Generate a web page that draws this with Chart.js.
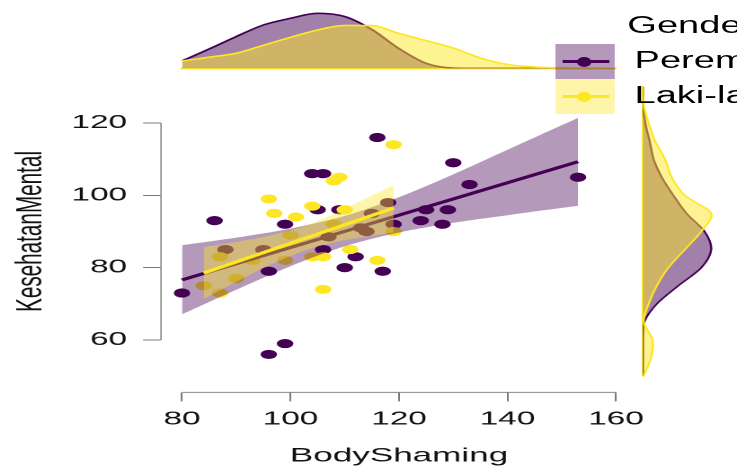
<!DOCTYPE html>
<html>
<head>
<meta charset="utf-8">
<title>BodyShaming vs KesehatanMental</title>
<script src="https://cdn.jsdelivr.net/npm/chart.js@4"></script>
<style>
  html, body { margin: 0; padding: 0; width: 737px; height: 468px; overflow: hidden; background: #fff; }
  /* the reference is stretched sideways, so draw narrow and widen the whole thing */
  #wrap { position: absolute; left: 0; top: 0; width: 410px; height: 468px;
          transform: scaleX(1.79756); transform-origin: 0 0; }
  .box { position: absolute; }
  #mainBox { left: 0; top: 0; width: 410px; height: 468px; }
  #topBox { left: 0; top: 0; width: 410px; height: 75px; }
  #rightBox { left: 340px; top: 80px; width: 70px; height: 300px; }
  .lg { position: absolute; font-family: 'Liberation Sans', Arial, sans-serif; font-size: 23px;
        line-height: 23px; color: #000; white-space: nowrap; transform: scaleX(0.92); transform-origin: 0 0; }
  .key { position: absolute; width: 32.8px; height: 35px; left: 309.3px; }
  .keyLine { position: absolute; left: 312.6px; width: 26.1px; height: 3px; }
  .keyDot { position: absolute; left: 321.4px; width: 8px; height: 10px; border-radius: 50%; }
</style>
</head>
<body>
<div id="wrap">
  <div class="box" id="mainBox"><canvas id="main"></canvas></div>
  <div class="box" id="topBox"><canvas id="topd"></canvas></div>
  <div class="box" id="rightBox"><canvas id="rightd"></canvas></div>
  <div id="legend"></div>
</div>
<script>
// ---- data ----
const groups = ['Perempuan', 'Laki-laki'];
const legendTitle = 'Gender';
const xTitle = 'BodyShaming';
const yTitle = 'KesehatanMental';
const xTicks = [80, 100, 120, 140, 160];
const yTicks = [60, 80, 100, 120];

const perempuanX = [80, 86, 88, 95, 96, 96, 99, 99, 104, 106, 105, 106, 107, 109, 110, 112, 113, 114, 115, 116, 117, 118, 119, 124, 125, 128, 129, 130, 133, 153];
const perempuanY = [73, 93, 85, 85, 79, 56, 59, 92, 106, 106, 96, 85, 88.5, 96, 80, 83, 91, 90, 95, 116, 79, 98, 92, 93, 96, 92, 96, 109, 103, 105];
const lakiX = [84, 87, 87, 90, 93, 96, 97, 99, 100, 101, 104, 104, 106, 106, 108, 108, 109, 110, 111, 116, 119, 119];
const lakiY = [75, 73, 83, 77, 82, 99, 95, 82, 89, 94, 97, 83, 83, 74, 92, 104, 105, 96, 85, 82, 114, 90];

// fitted lines and their bands
const perempuanFitX = [80, 153];
const perempuanFitY = [76.6, 109.3];
const lakiFitX = [84, 119];
const lakiFitY = [78.5, 96.5];
const perempuanBandX = [80, 90, 100, 110, 120, 130, 140, 153];
const perempuanBandLo = [67.1, 73.9, 80.4, 85.9, 89.7, 92.4, 94.5, 97.1];
const perempuanBandHi = [86.2, 88.3, 90.8, 94.3, 99.5, 105.8, 112.6, 121.4];
const lakiBandX = [84, 90, 96, 102, 108, 114, 119];
const lakiBandLo = [71.3, 76.1, 80.6, 84.4, 87.0, 88.6, 89.7];
const lakiBandHi = [85.7, 87.1, 88.8, 91.2, 94.8, 99.2, 102.8];

// marginal densities (relative heights)
const densXGrid = [80, 85, 90, 95, 100, 105, 110, 115, 120, 125, 130, 135, 140, 145, 150, 155, 160];
const perempuanDensX = [7.3, 19.3, 31.7, 43.3, 50, 55, 51.7, 38.7, 19.7, 5, 0.3, 0, 0, 0, 0, 0, 0];
const lakiDensX = [7.3, 11.1, 15, 23, 31, 38.3, 42.9, 42.7, 34.8, 27.7, 20.2, 10.4, 3.8, 1.3, 0.5, 0.3, 0];
const densYGrid = [50, 55, 60, 65, 70, 75, 80, 85, 90, 95, 100, 105, 110, 115, 120, 125, 130];
const perempuanDensY = [0, 0, 0, 1.3, 14, 35.7, 59, 69, 62.3, 44, 30.7, 19, 10.7, 6.7, 2.3, 0, 0];
const lakiDensY = [0.5, 8, 9.7, 0.7, 5.7, 14, 25.7, 42.3, 59, 69, 42.3, 29, 22.3, 12.3, 5.7, 0.7, 0];

// ---- styles ----
const purple = '#440154';
const yellow = '#FDE725';
const purpleBand = 'rgba(68,1,84,0.4)';
const yellowBand = 'rgba(253,231,37,0.4)';
const purpleFill = 'rgba(68,1,84,0.5)';
const yellowFill = 'rgba(253,231,37,0.5)';
const fontFam = "'Liberation Sans', Arial, sans-serif";

Chart.defaults.font.family = fontFam;
Chart.defaults.color = '#111';

const pts = (xs, ys) => xs.map((v, i) => ({x: v, y: ys[i]}));

// axis lines only over the tick range, plus the two axis titles
const baseAxes = {
  id: 'baseAxes',
  beforeDatasetsDraw(chart) {
    const {ctx, chartArea, scales: {x, y}} = chart;
    ctx.save();
    ctx.strokeStyle = '#8a8a8a';
    ctx.lineWidth = 1;
    ctx.beginPath();
    ctx.moveTo(x.getPixelForValue(xTicks[0]), chartArea.bottom);
    ctx.lineTo(x.getPixelForValue(xTicks[xTicks.length - 1]), chartArea.bottom);
    ctx.stroke();
    ctx.lineWidth = 0.8;
    ctx.beginPath();
    ctx.moveTo(chartArea.left, y.getPixelForValue(yTicks[0]));
    ctx.lineTo(chartArea.left, y.getPixelForValue(yTicks[yTicks.length - 1]));
    ctx.stroke();
    ctx.restore();
  },
  afterDraw(chart) {
    const {ctx, scales: {x, y}} = chart;
    ctx.save();
    ctx.fillStyle = '#111';
    ctx.textAlign = 'center';
    ctx.textBaseline = 'alphabetic';
    ctx.font = '19.5px ' + fontFam;
    ctx.fillText(xTitle, x.getPixelForValue((xTicks[0] + xTicks[xTicks.length - 1]) / 2), 461.7);
    ctx.translate(23.2, y.getPixelForValue((yTicks[0] + yTicks[yTicks.length - 1]) / 2));
    ctx.rotate(-Math.PI / 2);
    ctx.font = '20.7px ' + fontFam;
    ctx.fillText(yTitle, 0, 0);
    ctx.restore();
  }
};

new Chart(document.getElementById('main'), {
  type: 'scatter',
  data: {
    datasets: [
      {label: groups[0], data: pts(perempuanX, perempuanY), backgroundColor: purple, borderWidth: 0, pointRadius: 4.6, order: 5},
      {label: groups[1], data: pts(lakiX, lakiY), backgroundColor: yellow, borderWidth: 0, pointRadius: 4.6, order: 4},
      {type: 'line', data: pts(perempuanBandX, perempuanBandLo), borderWidth: 0, borderColor: 'transparent', pointRadius: 0, fill: false, tension: 0.3, order: 3},
      {type: 'line', data: pts(perempuanBandX, perempuanBandHi), borderWidth: 0, borderColor: 'transparent', pointRadius: 0, fill: '-1', backgroundColor: purpleBand, tension: 0.3, order: 3},
      {type: 'line', data: pts(perempuanFitX, perempuanFitY), borderColor: purple, borderWidth: 3, pointRadius: 0, fill: false, order: 2},
      {type: 'line', data: pts(lakiBandX, lakiBandLo), borderWidth: 0, borderColor: 'transparent', pointRadius: 0, fill: false, tension: 0.3, order: 1},
      {type: 'line', data: pts(lakiBandX, lakiBandHi), borderWidth: 0, borderColor: 'transparent', pointRadius: 0, fill: '-1', backgroundColor: yellowBand, tension: 0.3, order: 1},
      {type: 'line', data: pts(lakiFitX, lakiFitY), borderColor: yellow, borderWidth: 3, pointRadius: 0, fill: false, order: 0}
    ]
  },
  options: {
    animation: false,
    responsive: true,
    maintainAspectRatio: false,
    devicePixelRatio: 2,
    layout: {padding: {left: 0, top: 104.9, right: 67.32, bottom: 0}},
    plugins: {legend: {display: false}, tooltip: {enabled: false}},
    scales: {
      x: {
        type: 'linear', min: 76.13, max: 160,
        afterBuildTicks: s => { s.ticks = xTicks.map(v => ({value: v})); },
        afterFit: s => { s.height = 75.6; },
        ticks: {autoSkip: false, maxRotation: 0, padding: 7, font: {size: 18.5}, color: '#111'},
        grid: {drawOnChartArea: false, drawTicks: true, tickLength: 9, color: '#7a7a7a', lineWidth: 1},
        border: {display: false}
      },
      y: {
        type: 'linear', min: 45.5, max: 125,
        afterBuildTicks: s => { s.ticks = yTicks.map(v => ({value: v})); },
        afterFit: s => { s.width = 89.57; },
        ticks: {autoSkip: false, padding: 8.9, font: {size: 18.5}, color: '#111'},
        grid: {drawOnChartArea: false, drawTicks: true, tickLength: 10, color: '#7a7a7a', lineWidth: 1},
        border: {display: false}
      }
    }
  },
  plugins: [baseAxes]
});

// top marginal density
new Chart(document.getElementById('topd'), {
  type: 'line',
  data: {
    datasets: [
      {label: groups[1], data: pts(densXGrid, lakiDensX), borderColor: yellow, backgroundColor: yellowFill, borderWidth: 1.6, fill: 'origin', pointRadius: 0, cubicInterpolationMode: 'monotone', order: 0},
      {label: groups[0], data: pts(densXGrid, perempuanDensX), borderColor: purple, backgroundColor: purpleFill, borderWidth: 1.6, fill: 'origin', pointRadius: 0, cubicInterpolationMode: 'monotone', order: 1}
    ]
  },
  options: {
    animation: false,
    responsive: true,
    maintainAspectRatio: false,
    devicePixelRatio: 2,
    layout: {padding: {left: 101.25, right: 67.32, top: 8.3, bottom: 6.7}},
    plugins: {legend: {display: false}, tooltip: {enabled: false}},
    scales: {
      x: {
        type: 'linear', min: 80, max: 160,
        ticks: {display: false},
        grid: {display: false, drawTicks: false},
        border: {display: true, color: yellow, width: 2},
        afterFit: s => { s.height = 0; }
      },
      y: {min: 0, max: 60, display: false}
    }
  }
});

// right marginal density
new Chart(document.getElementById('rightd'), {
  type: 'line',
  data: {
    datasets: [
      {label: groups[1], data: pts(lakiDensY, densYGrid), borderColor: yellow, backgroundColor: yellowFill, borderWidth: 1.2, fill: 'origin', pointRadius: 0, tension: 0.3, order: 0},
      {label: groups[0], data: pts(perempuanDensY, densYGrid), borderColor: purple, backgroundColor: purpleFill, borderWidth: 1.2, fill: 'origin', pointRadius: 0, tension: 0.3, order: 1}
    ]
  },
  options: {
    indexAxis: 'y',
    animation: false,
    responsive: true,
    maintainAspectRatio: false,
    devicePixelRatio: 2,
    layout: {padding: {left: 17.7, right: 0, top: 6.8, bottom: 3.8}},
    plugins: {legend: {display: false}, tooltip: {enabled: false}},
    scales: {
      x: {type: 'linear', min: 0, max: 94, display: false},
      y: {
        type: 'linear', min: 50, max: 130,
        ticks: {display: false},
        grid: {display: false, drawTicks: false},
        border: {display: true, color: yellow, width: 1.2},
        afterFit: s => { s.width = 0; }
      }
    }
  }
});

// legend
const lg = document.getElementById('legend');
const keyColors = [[purpleBand, purple], [yellowBand, yellow]];
let html = '<div class="lg" style="left:349.4px;top:13.8px">' + legendTitle + '</div>';
groups.forEach((g, i) => {
  const top = 44 + i * 35;
  const mid = top + 17.7;
  html += '<div class="key" style="top:' + top + 'px;background:' + keyColors[i][0] + '"></div>';
  html += '<div class="keyLine" style="top:' + (mid - 1.5) + 'px;background:' + keyColors[i][1] + '"></div>';
  html += '<div class="keyDot" style="top:' + (mid - 5) + 'px;background:' + keyColors[i][1] + '"></div>';
  html += '<div class="lg" style="left:353.3px;top:' + (48.8 + i * 34.7) + 'px">' + g + '</div>';
});
lg.innerHTML = html;
</script>
</body>
</html>
